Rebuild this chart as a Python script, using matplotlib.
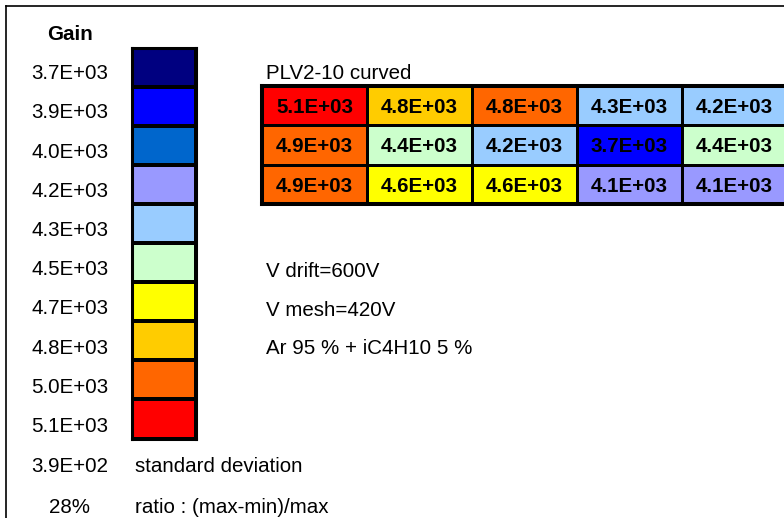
import matplotlib
matplotlib.use("Agg")
import matplotlib.pyplot as plt
from matplotlib.colors import ListedColormap
import numpy as np

plt.rcParams['font.family'] = ['Liberation Sans', 'DejaVu Sans']

# gain levels of the colour scale (upper edge of each bin)
levels = [3700, 3860, 4020, 4180, 4340, 4500, 4660, 4820, 4980, 5140]
palette = ['#000080', '#0000FF', '#0066CC', '#9999FF', '#99CCFF',
           '#CCFFCC', '#FFFF00', '#FFCC00', '#FF6600', '#FF0000']

# measured gain per pad, rows top to bottom
gain_rows = [
    [5120, 4810, 4840, 4280, 4220],
    [4880, 4410, 4200, 3720, 4380],
    [4870, 4620, 4580, 4120, 4090],
]
std_dev = 390
spread_pct = 28

title = 'PLV2-10 curved'
conditions = ['V drift=600V', 'V mesh=420V', 'Ar 95 % + iC4H10 5 %']

W, H = 784, 518
fs = 14.8


def px_axes(fig, x0, y0, x1, y1):
    return fig.add_axes([x0 / W, 1 - y1 / H, (x1 - x0) / W, (y1 - y0) / H])


fig = plt.figure(figsize=(W / 100, H / 100), dpi=100)

# page in pixel units for the frame and free text
bg = fig.add_axes([0, 0, 1, 1])
bg.set_xlim(0, W)
bg.set_ylim(H, 0)
bg.axis('off')
bg.plot([6, 6], [6, H + 10], color='black', lw=1.2)
bg.plot([6, W + 10], [6, 6], color='black', lw=1.2)

bg.text(70.5, 40.5, 'Gain', ha='center', va='baseline', fontsize=fs, fontweight='bold')
for i, lv in enumerate(levels):
    bg.text(70, 79.3 + i * 39.2, '{:.1E}'.format(lv), ha='center', va='baseline', fontsize=fs)
bg.text(70, 472.5, '{:.1E}'.format(std_dev), ha='center', va='baseline', fontsize=fs)
bg.text(135, 472.5, 'standard deviation', ha='left', va='baseline', fontsize=fs)
bg.text(70, 513, '{}%'.format(spread_pct), ha='center', va='baseline', fontsize=fs)
bg.text(135, 513, 'ratio : (max-min)/max', ha='left', va='baseline', fontsize=fs)

bg.text(266.5, 79, title, ha='left', va='baseline', fontsize=fs)
for k, c in enumerate(conditions):
    bg.text(266.5, 276.7 + k * 38.8, c, ha='left', va='baseline', fontsize=fs)

cmap = ListedColormap(palette)

# colour scale bar
leg = px_axes(fig, 131.5, 47.5, 196.5, 438.5)
leg_idx = np.arange(len(levels)).reshape(-1, 1)
leg.pcolormesh(leg_idx, cmap=cmap, vmin=-0.5, vmax=len(palette) - 0.5,
               edgecolors='black', linewidth=1.6)
leg.set_xlim(0, 1)
leg.set_ylim(len(levels), 0)
leg.set_xticks([])
leg.set_yticks([])
for s in leg.spines.values():
    s.set_linewidth(2.2)

# pad map, coloured by the bin each gain falls in
gains = np.array(gain_rows)
bins = np.searchsorted(levels, gains, side='left')
grid = px_axes(fig, 262, 86, 787, 204)
grid.pcolormesh(bins, cmap=cmap, vmin=-0.5, vmax=len(palette) - 0.5,
                edgecolors='black', linewidth=1.8)
grid.set_xlim(0, gains.shape[1])
grid.set_ylim(gains.shape[0], 0)
grid.set_xticks([])
grid.set_yticks([])
for s in grid.spines.values():
    s.set_linewidth(2.9)
for r in range(gains.shape[0]):
    for c in range(gains.shape[1]):
        grid.text(c + 0.5, r + 0.5, '{:.1E}'.format(gains[r, c]), ha='center',
                  va='center_baseline', fontsize=fs, fontweight='bold')

fig.savefig('out.png', dpi=100)
